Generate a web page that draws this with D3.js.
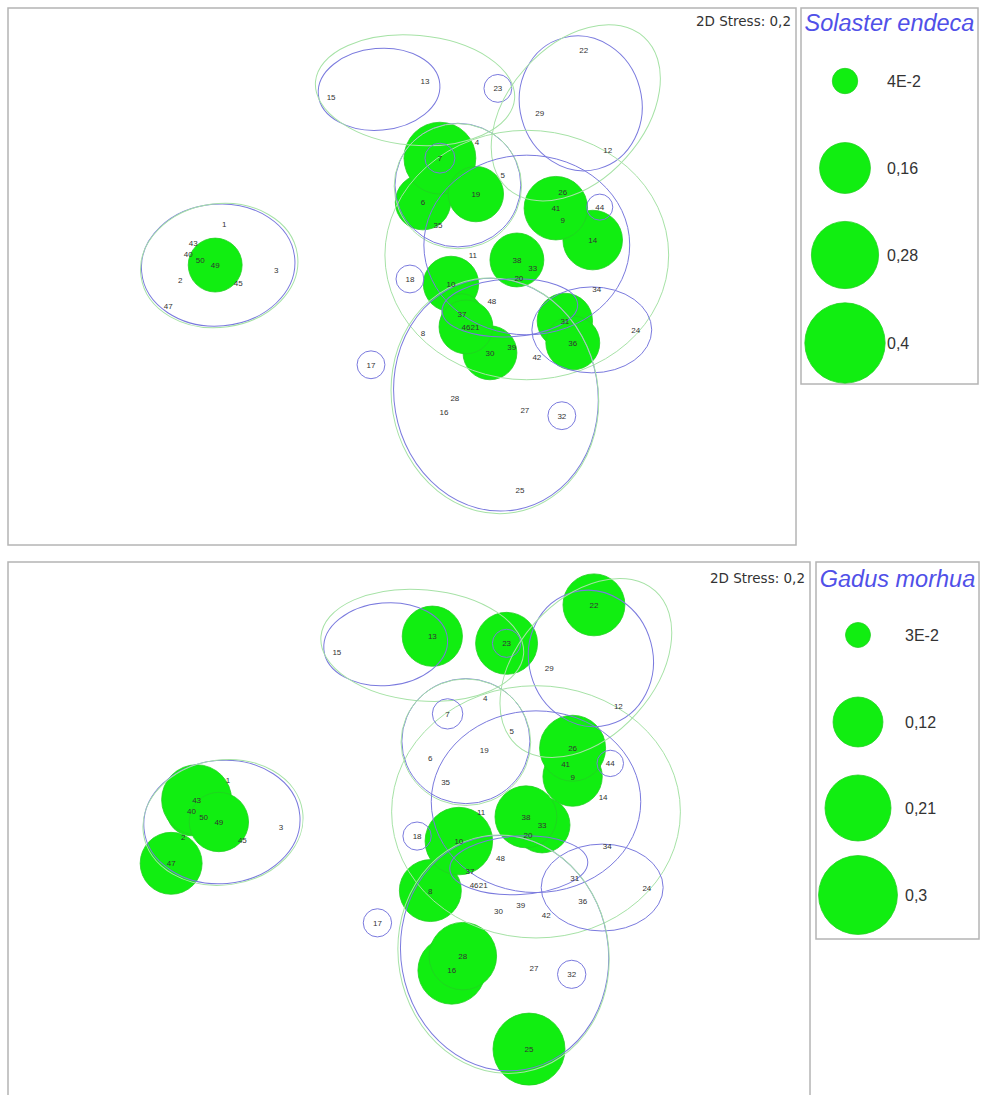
<!DOCTYPE html>
<html><head><meta charset="utf-8">
<script src="https://cdn.jsdelivr.net/npm/d3@7"></script>
<style>body{margin:0;background:#fff}svg{display:block}</style>
</head><body>
<script>
// ---- data (MDS coordinates) ----
const stations = ["1","2","3","4","5","6","7","8","9","10","11","12","13","14","15","16","17","18","19","20","21","22","23","24","25","26","27","28","29","30","31","32","33","34","35","36","37","38","39","40","41","42","43","44","45","46","47","48","49","50"];
const mdsX = [-1.187,-1.48,-0.84,0.5,0.673,0.14,0.253,0.14,1.073,0.327,0.473,1.373,0.153,1.273,-0.473,0.28,-0.207,0.053,0.493,0.78,0.487,1.213,0.64,1.56,0.787,1.073,0.82,0.353,0.92,0.587,1.087,1.067,0.873,1.3,0.24,1.14,0.4,0.767,0.733,-1.427,1.027,0.9,-1.393,1.32,-1.093,0.427,-1.56,0.6,-1.247,-1.347];
const mdsY = [0.317,-0.057,0.01,0.863,0.643,0.463,0.757,-0.41,0.343,-0.083,0.11,0.81,1.27,0.21,1.163,-0.937,-0.623,-0.05,0.517,-0.043,-0.37,1.477,1.223,-0.39,-1.457,0.53,-0.923,-0.843,1.057,-0.543,-0.33,-0.963,0.023,-0.117,0.31,-0.477,-0.283,0.077,-0.503,0.117,0.423,-0.57,0.19,0.43,-0.077,-0.37,-0.23,-0.197,0.043,0.077];
// abundances (same station order)
const solaster = [0,0,0,0,0,0.19,0.32,0,0,0.19,0,0,0,0.22,0,0,0,0,0.19,0,0,0,0,0,0,0,0,0,0,0.18,0.19,0,0,0,0,0.18,0.1,0.18,0,0,0.25,0,0,0,0,0.18,0,0,0.18,0];
const gadus    = [0,0,0,0,0,0,0,0.185,0.17,0.22,0,0,0.175,0,0,0.22,0,0,0,0,0,0.185,0.185,0,0.25,0.21,0,0.22,0,0,0,0,0.15,0,0,0,0,0.185,0,0.12,0,0,0.236,0,0,0,0.185,0,0.17,0];
const solasterLegend = [0.04,0.16,0.28,0.4];
const solasterLegendLabels = ["4E-2","0,16","0,28","0,4"];
const gadusLegend = [0.03,0.12,0.21,0.3];
const gadusLegendLabels = ["3E-2","0,12","0,21","0,3"];
// cluster contours (MDS units): cx, cy, rx, ry, angle(deg), level
const contourCx    = [-1.227,-1.22,-0.153,0.087,0.64,1.193,1.16,0.373,0.373,0.833,0.833,0.053,1.32,1.267,0.627,0.62,-0.207,1.067,0.253,0.72];
const contourCy    = [0.043,0.04,1.217,1.21,1.223,1.123,1.06,0.577,0.57,0.177,0.11,-0.05,0.43,-0.39,-0.823,-0.83,-0.623,-0.963,0.757,-0.243];
const contourRx    = [0.513,0.527,0.407,0.667,0.093,0.407,0.68,0.42,0.425,0.687,0.947,0.093,0.087,0.4,0.68,0.69,0.093,0.093,0.1,0.453];
const contourRy    = [0.407,0.413,0.273,0.367,0.093,0.453,0.45,0.413,0.418,0.6,0.833,0.093,0.087,0.287,0.78,0.79,0.093,0.093,0.1,0.193];
const contourAngle = [5,8,5,-5,0,15,48,0,0,0,0,0,0,0,10,10,0,0,0,3];
const contourLevel = ["b","g","b","g","b","b","g","b","g","b","g","b","b","b","b","g","b","b","b","b"];
const stressText = "2D Stress: 0,2";

// ---- drawing ----
const W = 981, H = 1095;
const svg = d3.select("body").append("svg").attr("width", W).attr("height", H);
const levelColor = {b:"#7a7ade", g:"#a6e2a6"};
const font = "'Liberation Sans', Arial, sans-serif";

const panels = [
  {x0:8,y0:8,x1:796,y1:535, lg:[801,8,978,384], title:"Solaster endeca", tty:31, vals:solaster, lv:solasterLegend, ll:solasterLegendLabels, k:63.5, lcx:845, lys:[81,168,255,343], ltx:887, sty:26},
  {x0:8,y0:562,x1:810,y1:1095, lg:[816,562,979,939], title:"Gadus morhua", tty:587, vals:gadus, lv:gadusLegend, ll:gadusLegendLabels, k:72, lcx:858, lys:[635,722,808,895], ltx:905, sty:583}
];

panels.forEach(p => {
  const g = svg.append("g");
  const x = d3.scaleLinear().domain([-2.63, 2.63]).range([p.x0, p.x1]);
  const y = d3.scaleLinear().domain([1.76, -1.76]).range([p.y0, p.y1]);
  const r = d3.scaleSqrt().domain([0, 1]).range([0, p.k]);
  const kx = (p.x1 - p.x0) / 5.26, ky = (p.y1 - p.y0) / 3.52;

  g.append("rect").attr("x", p.x0).attr("y", p.y0).attr("width", p.x1 - p.x0).attr("height", p.y1 - p.y0 + 10)
    .attr("fill", "#fff").attr("stroke", "#b4b4b4").attr("stroke-width", 1.5);

  const idx = d3.range(stations.length);
  // bubbles
  g.append("g").selectAll("circle").data(idx.filter(i => p.vals[i] > 0)).join("circle")
    .attr("cx", i => x(mdsX[i])).attr("cy", i => y(mdsY[i])).attr("r", i => r(p.vals[i]))
    .attr("fill", "#11ee11").attr("stroke", "#22d022").attr("stroke-width", 0.8);

  // contours
  g.append("g").selectAll("ellipse").data(d3.range(contourCx.length)).join("ellipse")
    .attr("transform", i => `translate(${x(contourCx[i])},${y(contourCy[i])}) rotate(${-contourAngle[i]})`)
    .attr("rx", i => contourRx[i] * kx).attr("ry", i => contourRy[i] * ky)
    .attr("fill", "none").attr("stroke", i => levelColor[contourLevel[i]]).attr("stroke-width", 1);

  // labels
  g.append("g").selectAll("text").data(idx).join("text")
    .attr("x", i => x(mdsX[i])).attr("y", i => y(mdsY[i]) + 3)
    .attr("text-anchor", "middle").attr("font-family", font).attr("font-size", 8)
    .attr("fill", "#333").text(i => stations[i]);

  g.append("text").attr("x", p.x1 - 5).attr("y", p.sty).attr("text-anchor", "end")
    .attr("font-family", "'DejaVu Sans', sans-serif").attr("font-size", 13.5).attr("fill", "#333").text(stressText);

  // legend
  const [lx0, ly0, lx1, ly1] = p.lg;
  g.append("rect").attr("x", lx0).attr("y", ly0).attr("width", lx1 - lx0).attr("height", ly1 - ly0)
    .attr("fill", "#fff").attr("stroke", "#b4b4b4").attr("stroke-width", 1.5);
  g.append("text").attr("x", (lx0 + lx1) / 2).attr("y", p.tty).attr("text-anchor", "middle")
    .attr("font-family", font).attr("font-style", "italic").attr("font-size", 23.5).attr("fill", "#5050e8").text(p.title);
  g.append("g").selectAll("circle").data(p.lv).join("circle")
    .attr("cx", p.lcx).attr("cy", (d, i) => p.lys[i]).attr("r", d => r(d))
    .attr("fill", "#11ee11").attr("stroke", "#22d022").attr("stroke-width", 0.8);
  g.append("g").selectAll("text").data(p.ll).join("text")
    .attr("x", p.ltx).attr("y", (d, i) => p.lys[i] + 6)
    .attr("font-family", font).attr("font-size", 16).attr("fill", "#333").text(d => d);
});
</script>
</body></html>
